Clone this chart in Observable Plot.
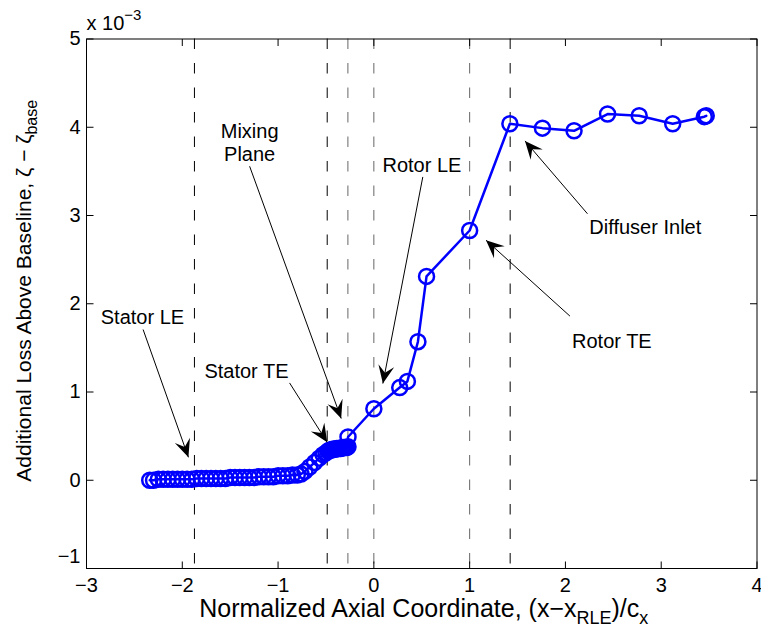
<!DOCTYPE html>
<html><head><meta charset="utf-8">
<script src="https://cdn.jsdelivr.net/npm/d3@7"></script>
<script src="https://cdn.jsdelivr.net/npm/@observablehq/plot@0.6"></script>
<style>html,body{margin:0;padding:0;background:#fff} svg{display:block}</style>
</head><body><div id="chart"></div>
<script>
// Loss data (units of 1e-3)
const xs = [
-2.34,-2.30,-2.25,-2.20,-2.15,-2.10,-2.05,-2.00,-1.95,-1.90,-1.85,-1.80,-1.75,-1.70,-1.65,-1.60,-1.55,-1.50,-1.45,-1.40,-1.35,-1.30,-1.25,-1.20,-1.15,-1.10,-1.05,-1.00,-0.95,-0.90,-0.85,-0.80,-0.76,
-0.72,-0.67,-0.62,-0.57,-0.53,-0.50,
-0.48,-0.465,-0.45,-0.435,-0.42,-0.405,-0.39,-0.375,-0.36,-0.345,-0.33,-0.315,-0.30,-0.285,-0.27,
-0.27,0.00,0.27,0.35,0.46,0.55,1.00,1.42,1.76,2.09,2.44,2.77,3.12,3.45,3.47];
const ys = [
0.00,0.00,0.01,0.01,0.01,0.01,0.01,0.01,0.01,0.01,0.02,0.02,0.02,0.02,0.02,0.02,0.02,0.03,0.03,0.03,0.03,0.03,0.03,0.04,0.04,0.04,0.04,0.05,0.05,0.05,0.06,0.06,0.07,
0.10,0.15,0.20,0.25,0.29,0.31,
0.33,0.34,0.34,0.35,0.35,0.35,0.36,0.36,0.36,0.36,0.37,0.37,0.37,0.37,0.38,
0.49,0.81,1.05,1.12,1.57,2.31,2.83,4.04,3.99,3.96,4.15,4.13,4.04,4.12,4.13];

const dashX = [-1.873, -0.487, -0.271, 0, 1.0, 1.423];
const dashColor = ["#000", "#000", "#666", "#666", "#666", "#000"];
const xTicks = [-3, -2, -1, 0, 1, 2, 3, 4];
const yTicks = [-1, 0, 1, 2, 3, 4, 5];

const labelText = ["Stator LE", "Stator TE", "Mixing\nPlane", "Rotor LE", "Rotor TE", "Diffuser Inlet"];
const labelX = [-2.416, -1.33, -1.297, 0.502, 2.485, 2.834];
const labelY = [1.85, 1.246, 3.83, 3.58, 1.575, 2.878];
const arrowX1 = [-2.409, -0.880, -1.297, 0.511, 2.047, 2.23];
const arrowY1 = [1.708, 1.103, 3.558, 3.437, 1.86, 3.02];
const arrowX2 = [-1.936, -0.487, -0.341, 0.094, 1.171, 1.578];
const arrowY2 = [0.26, 0.43, 0.70, 1.096, 2.72, 3.845];

const data = xs.map((x, i) => ({x, y: ys[i]}));
const dashes = dashX.map((x, i) => ({x, c: dashColor[i]}));
const labels = labelText.map((t, i) => ({t, x: labelX[i], y: labelY[i]}));

const layout = {
  width: 761, height: 638,
  marginLeft: 86, marginRight: 4.5, marginTop: 38.5, marginBottom: 70,
  x: {domain: [-3, 4]}, y: {domain: [-1, 5]},
  style: {fontFamily: "'Liberation Sans', Arial, Helvetica, sans-serif", fontSize: "20px", background: "#fff"}
};
const probe = Plot.plot({...layout, marks: [Plot.frame()]});
const sx = probe.scale("x"), sy = probe.scale("y");
const arrows = arrowX1.map((_, i) => {
  const dx = sx.apply(arrowX2[i]) - sx.apply(arrowX1[i]);
  const dy = sy.apply(arrowY2[i]) - sy.apply(arrowY1[i]);
  return {x1: arrowX1[i], y1: arrowY1[i], x2: arrowX2[i], y2: arrowY2[i], angle: Math.atan2(dy, dx) * 180 / Math.PI};
});

const fmt = d => String(d).replace("-", "\u2212");
const tickUp = {draw(c) { c.moveTo(0, 0); c.lineTo(0, -7); }};
const tickDown = {draw(c) { c.moveTo(0, 0); c.lineTo(0, 7); }};
const tickRight = {draw(c) { c.moveTo(0, 0); c.lineTo(7, 0); }};
const tickLeft = {draw(c) { c.moveTo(0, 0); c.lineTo(-7, 0); }};
const headSym = {draw(c) { c.moveTo(0, 0); c.lineTo(-18, -8); c.lineTo(-11, 0); c.lineTo(-18, 8); c.closePath(); }};

const chart = Plot.plot({
  ...layout,
  marks: [
    Plot.ruleX(dashes, {x: "x", stroke: "c", strokeWidth: 1, strokeDasharray: "10.5,14"}),
    Plot.line(data, {x: "x", y: "y", stroke: "#0000ff", strokeWidth: 2.5}),
    Plot.dot(data, {x: "x", y: "y", r: 7.5, stroke: "#0000ff", strokeWidth: 2.5, fill: "none"}),
    Plot.link(arrows, {x1: "x1", y1: "y1", x2: "x2", y2: "y2", stroke: "black", strokeWidth: 1}),
    Plot.dot(arrows, {x: "x2", y: "y2", symbol: headSym, rotate: "angle", r: 8, fill: "black", stroke: "none"}),
    Plot.text(labels, {x: "x", y: "y", text: "t", fontSize: 20, fill: "black", lineHeight: 1.13}),
    Plot.frame({stroke: "black", strokeWidth: 1}),
    Plot.dot(xTicks, {x: d => d, frameAnchor: "bottom", symbol: tickUp, r: 7, stroke: "black", fill: "none", strokeWidth: 1}),
    Plot.dot(xTicks, {x: d => d, frameAnchor: "top", symbol: tickDown, r: 7, stroke: "black", fill: "none", strokeWidth: 1}),
    Plot.dot(yTicks, {y: d => d, frameAnchor: "left", symbol: tickRight, r: 7, stroke: "black", fill: "none", strokeWidth: 1}),
    Plot.dot(yTicks, {y: d => d, frameAnchor: "right", symbol: tickLeft, r: 7, stroke: "black", fill: "none", strokeWidth: 1}),
    Plot.axisX(xTicks, {tickSize: 0, tickPadding: 9, tickFormat: fmt, fontSize: 20, label: null, fill: "black"}),
    Plot.axisY(yTicks.slice(1), {tickSize: 0, tickPadding: 6, tickFormat: fmt, fontSize: 20, label: null, fill: "black"}),
    Plot.axisY(yTicks.slice(0, 1), {tickSize: 0, tickPadding: 6, tickFormat: fmt, fontSize: 20, label: null, fill: "black", dy: -12}),
    Plot.text(["XTITLE"], {frameAnchor: "bottom", textAnchor: "middle", lineAnchor: "top", dy: 31, dx: 2, text: d => d, fontSize: 25, fill: "black"}),
    Plot.text(["YTITLE"], {frameAnchor: "left", textAnchor: "middle", rotate: -90, dx: -62, dy: -13, text: d => d, fontSize: 21, fill: "black"}),
    Plot.text(["EXPTXT"], {frameAnchor: "top-left", textAnchor: "start", lineAnchor: "bottom", dy: -9.5, text: d => d, fontSize: 20, fill: "black"})
  ]
});

const S = d3.select(chart);
const repl = (key, html) => S.selectAll("text").filter(function() { return this.textContent === key; }).html(html);
repl("XTITLE", 'Normalized Axial Coordinate, (x\u2212x<tspan dy="7" font-size="18">RLE</tspan><tspan dy="-7">)/c</tspan><tspan dy="7" font-size="18">x</tspan>');
repl("YTITLE", 'Additional Loss Above Baseline, \u03b6 \u2212 \u03b6<tspan dy="6" font-size="16">base</tspan>');
repl("EXPTXT", 'x 10<tspan dy="-10" font-size="15">\u22123</tspan>');

document.getElementById("chart").appendChild(chart);
</script>
</body></html>
